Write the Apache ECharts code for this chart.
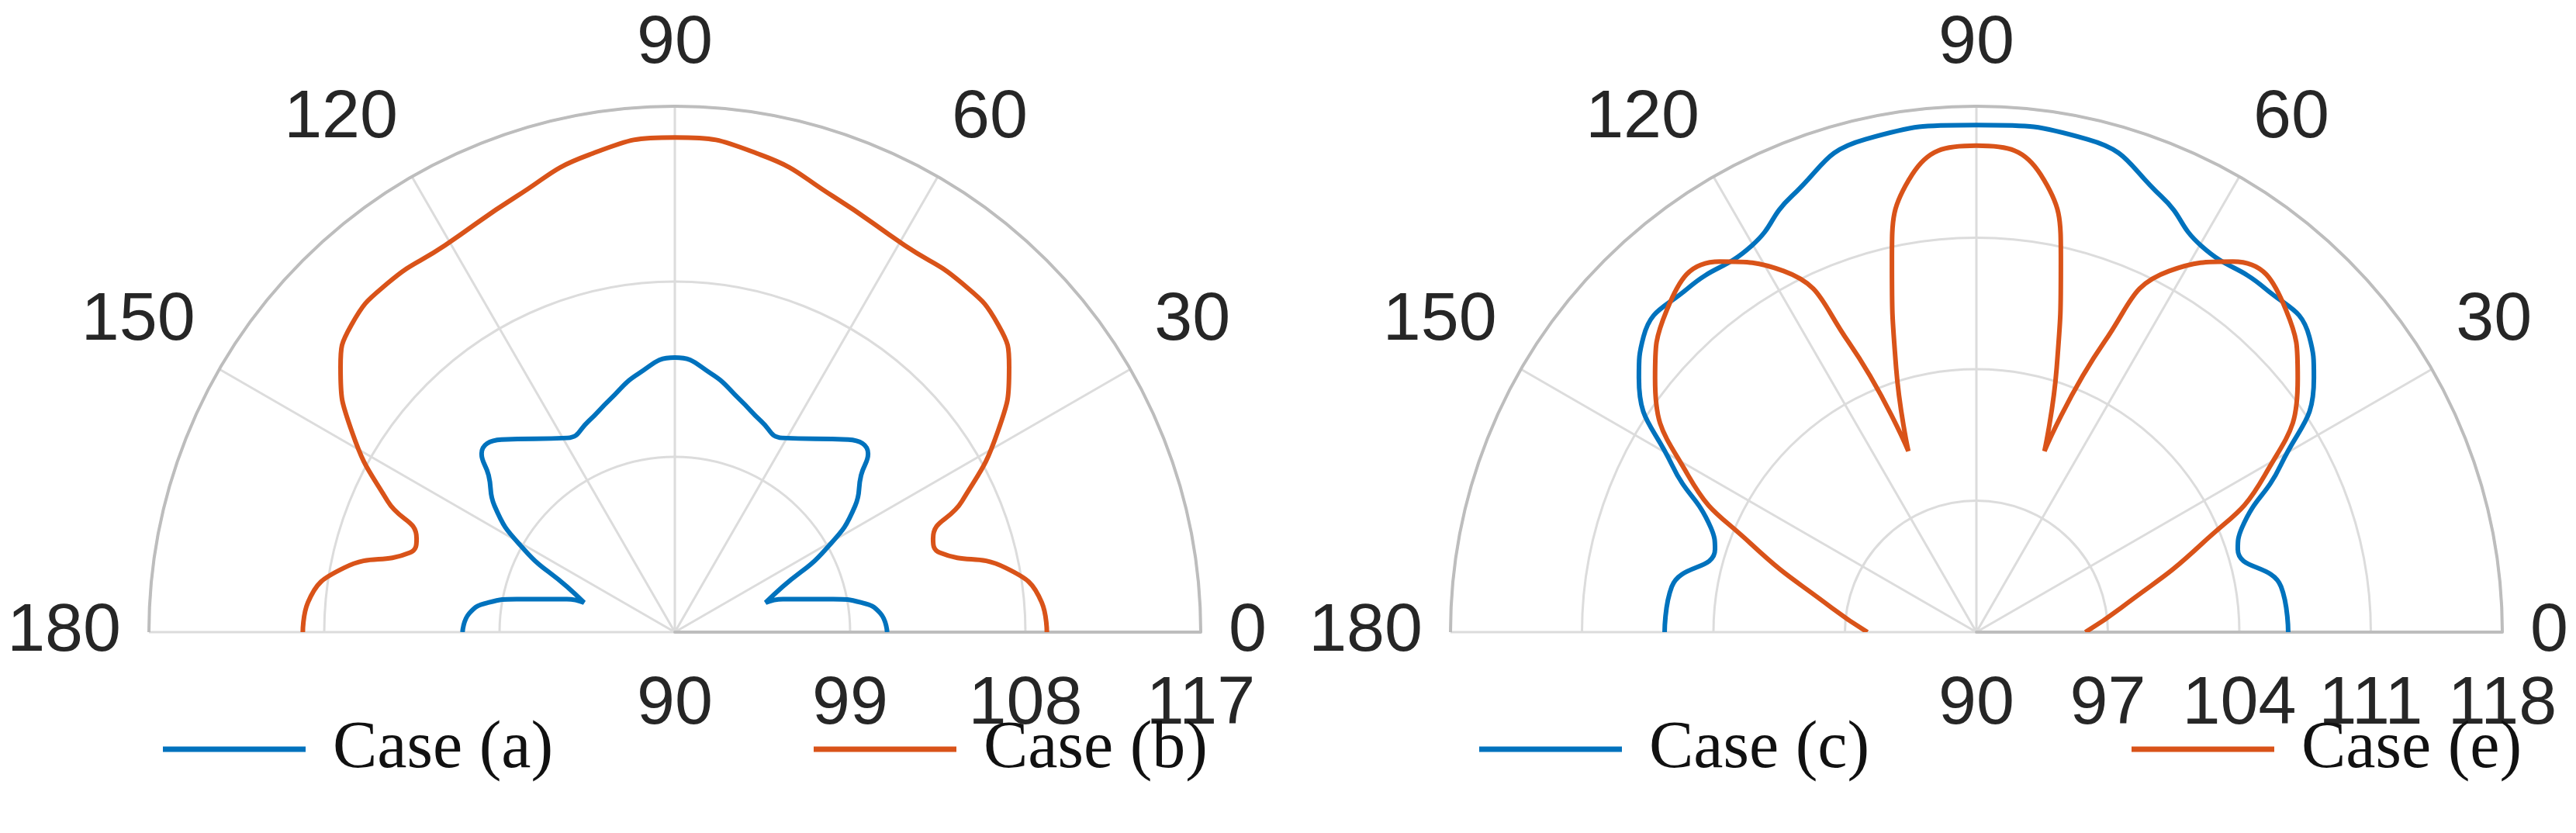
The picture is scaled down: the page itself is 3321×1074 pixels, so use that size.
<!DOCTYPE html>
<html><head><meta charset="utf-8">
<script src="https://cdn.jsdelivr.net/npm/echarts@6/dist/echarts.min.js"></script>
<style>html,body{margin:0;padding:0;background:#fff}#c{width:3321px;height:1074px}</style>
</head><body><div id="c"></div>
<script>
// Left plot: angles (deg) and radial values
const angA = [0,5.2,9,11.8,17,18,22.8,28.7,35,40.1,42.7,48,61,67.7,74.4,82,90,98,105.6,112.3,119,132,137.3,139.9,145,151.3,157.2,162,163,168.2,171,174.8,180];
const valA = [100.9,100.6,99.7,98.3,95.8,94.9,96.0,98.8,101.3,102.5,103.5,103.3,101.4,101.7,102.4,103.4,104.1,103.4,102.4,101.7,101.4,103.3,103.5,102.5,101.3,98.8,96.0,94.9,95.8,98.3,99.7,100.6,100.9];
const angB = [0,4.6,11,16.7,19.9,24.5,31.8,38.4,43.5,50.6,59.3,70,79.8,90,100.2,110,120.7,129.4,136.5,141.6,148.2,155.5,160.1,163.3,169,175.4,180];
const valB = [109.1,108.9,107.3,104.2,104.1,106.2,109.5,111.9,112.9,113.2,113.1,113.8,114.9,115.4,114.9,113.8,113.1,113.2,112.9,111.9,109.5,106.2,104.1,104.2,107.3,108.9,109.1];
// Right plot
const angC = [0,8.5,17.6,21.5,28.8,37,41.6,50,59.8,67,77.3,90,102.7,113,120.2,130,138.4,143,151.2,158.5,162.4,171.5,180];
const valC = [106.6,106.4,104.6,105.2,108.5,112.5,113.7,113.9,113.8,115.2,116.9,117.0,116.9,115.2,113.8,113.9,113.7,112.5,108.5,105.2,104.6,106.4,106.6];
const angE = [0,9.5,21.4,28.6,38.3,46.2,55.3,61.9,66.2,69.4,73.1,77.2,82,90,98,102.8,106.9,110.6,113.8,118.1,124.7,133.8,141.7,151.4,158.6,170.5,180];
const valE = [95.8,97.8,102.9,107.5,111.8,113.8,114.0,111.8,106.9,100.3,104.7,110.3,114.6,115.9,114.6,110.3,104.7,100.3,106.9,111.8,114.0,113.8,111.8,107.5,102.9,97.8,95.8];
const leftTicks = {min:90,max:117,interval:9};
const rightTicks = {min:90,max:118,interval:7};

const BLUE='#0072BD', ORANGE='#D95319';
const tickFont = {fontFamily:'Liberation Sans, Arial', fontSize:88, color:'#262626'};
function angleAxis(i){return {polarIndex:i,type:'value',min:0,max:180,interval:30,startAngle:0,endAngle:180,clockwise:false,
  axisLine:{lineStyle:{color:'#bdbdbd',width:4}},axisTick:{show:false},
  axisLabel:Object.assign({margin:36},tickFont),
  splitLine:{lineStyle:{color:'#dcdcdc',width:3}}};}
function radiusAxis(i,t){return {polarIndex:i,type:'value',min:t.min,max:t.max,interval:t.interval,
  axisLine:{show:true,lineStyle:{color:'#bdbdbd',width:4}},axisTick:{show:false},
  axisLabel:Object.assign({margin:0,verticalAlign:'top',align:'center',padding:[50,0,0,0]},tickFont),
  splitLine:{lineStyle:{color:'#dcdcdc',width:3}}};}
function zip(a,v){return a.map((x,k)=>[v[k],x]);}
function ser(name,i,a,v,c){return {name,type:'line',coordinateSystem:'polar',polarIndex:i,data:zip(a,v),
  symbol:'none',smooth:0.5,lineStyle:{color:c,width:6},itemStyle:{color:c},z:5};}
function leg(name,left){return {data:[name],left,top:918,icon:'rect',itemWidth:184,itemHeight:7,itemGap:40,
  textStyle:{fontFamily:'Liberation Serif, Times New Roman',fontSize:86,color:'#111',padding:[0,0,0,30]}};}
const chart = echarts.init(document.getElementById('c'));
chart.setOption({
  animation:false,
  polar:[{center:[870,815],radius:678},{center:[2548,815],radius:678}],
  angleAxis:[angleAxis(0),angleAxis(1)],
  radiusAxis:[radiusAxis(0,leftTicks),radiusAxis(1,rightTicks)],
  legend:[leg('Case (a)',205),leg('Case (b)',1044),leg('Case (c)',1902),leg('Case (e)',2743)],
  series:[ser('Case (a)',0,angA,valA,BLUE),ser('Case (b)',0,angB,valB,ORANGE),
          ser('Case (c)',1,angC,valC,BLUE),ser('Case (e)',1,angE,valE,ORANGE)]
});
</script></body></html>
